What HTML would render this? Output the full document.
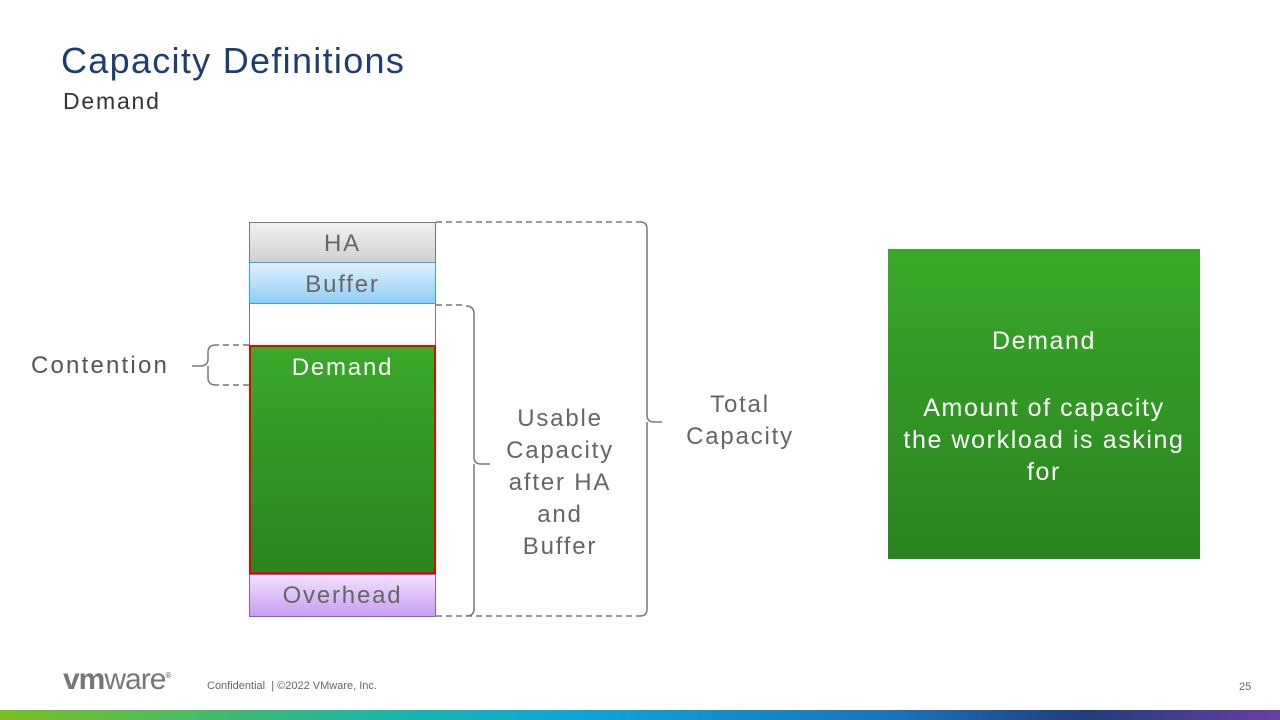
<!DOCTYPE html>
<html><head><style>
body{margin:0;width:1280px;height:720px;background:#fff;position:relative;overflow:hidden;font-family:"Liberation Sans",sans-serif;}
.a{position:absolute}
.t{color:#666;font-size:24px;text-align:center;letter-spacing:1.8px}
</style></head><body>
<div class="a" style="left:61px;top:40px;font-size:36px;color:#1f3e6e;letter-spacing:1.3px">Capacity Definitions</div>
<div class="a" style="left:63px;top:88px;font-size:23px;color:#333;letter-spacing:1.8px">Demand</div>

<div class="a t" style="left:249px;top:222px;width:185px;height:39px;border:1px solid #777;border-bottom:none;background:linear-gradient(#f2f2f2,#cfcfcf);line-height:42px">HA</div>
<div class="a t" style="left:249px;top:262px;width:185px;height:40px;border:1px solid #3a9fd8;background:linear-gradient(#dff2ff,#8fcdf2);line-height:44px">Buffer</div>
<div class="a" style="left:249px;top:304px;width:185px;height:41px;border-left:1px solid #777;border-right:1px solid #777"></div>
<div class="a" style="left:249px;top:345px;width:183px;height:225px;border:2px solid #e00;background:linear-gradient(#3aa82a,#2a8420);color:#fff;font-size:24px;text-align:center;line-height:42px;letter-spacing:1.8px">Demand</div>
<div class="a t" style="left:249px;top:574px;width:185px;height:41px;border:1px solid #8a5fb0;background:linear-gradient(#f0e2ff,#c89ef0);line-height:42px">Overhead</div>

<svg class="a" style="left:0;top:0" width="1280" height="720">
<g fill="none" stroke="#777" stroke-width="1.5">
<path d="M436 222 H640" stroke-dasharray="6 4"/>
<path d="M436 616 H640" stroke-dasharray="6 4"/>
<path d="M640 222 Q647 222 647 229 V415 Q647 422 654 422 H662 M647 422 Q647 429 647 436 V609 Q647 616 640 616"/>
<path d="M436 305 H466" stroke-dasharray="6 4"/>
<path d="M466 306 Q474 306 474 314 V457 Q474 464 481 464 H490 M474 464 V609 Q474 616 466 616"/>
<path d="M249 345 H216" stroke-dasharray="6 4"/>
<path d="M249 385 H216" stroke-dasharray="6 4"/>
<path d="M216 345 Q208 345 208 352 V359 Q208 366 200 366 H192 M208 366 V378 Q208 385 216 385"/>
</g>
</svg>

<div class="a t" style="left:10px;top:352px;width:180px;color:#555;letter-spacing:2.2px">Contention</div>
<div class="a t" style="left:480px;top:403px;width:160px;line-height:32px">Usable<br>Capacity<br>after HA<br>and<br>Buffer</div>
<div class="a t" style="left:660px;top:389px;width:160px;line-height:32px">Total<br>Capacity</div>

<div class="a" style="left:888px;top:249px;width:312px;height:310px;background:linear-gradient(#3aa82a,#2a8420);color:#fff;text-align:center;font-size:25px;letter-spacing:1.6px">
<div style="margin-top:78px">Demand</div>
<div style="margin-top:36px;line-height:32px">Amount of capacity<br>the workload is asking<br>for</div>
</div>

<div class="a" style="left:63px;top:663px;font-size:30px;font-weight:bold;color:#777;letter-spacing:-1px">vm<span style="font-weight:normal">ware</span><sup style="font-size:8px">®</sup></div>
<div class="a" style="left:207px;top:680px;font-size:11px;color:#666">Confidential &nbsp;| ©2022 VMware, Inc.</div>
<div class="a" style="left:1239px;top:681px;font-size:11px;color:#666">25</div>
<div class="a" style="left:0;top:710px;width:1280px;height:10px;background:linear-gradient(90deg,#78be20,#1cb5a8 30%,#0fa6d6 45%,#1a73b8 70%,#213d7a 85%,#6b3fa0)"></div>
</body></html>
